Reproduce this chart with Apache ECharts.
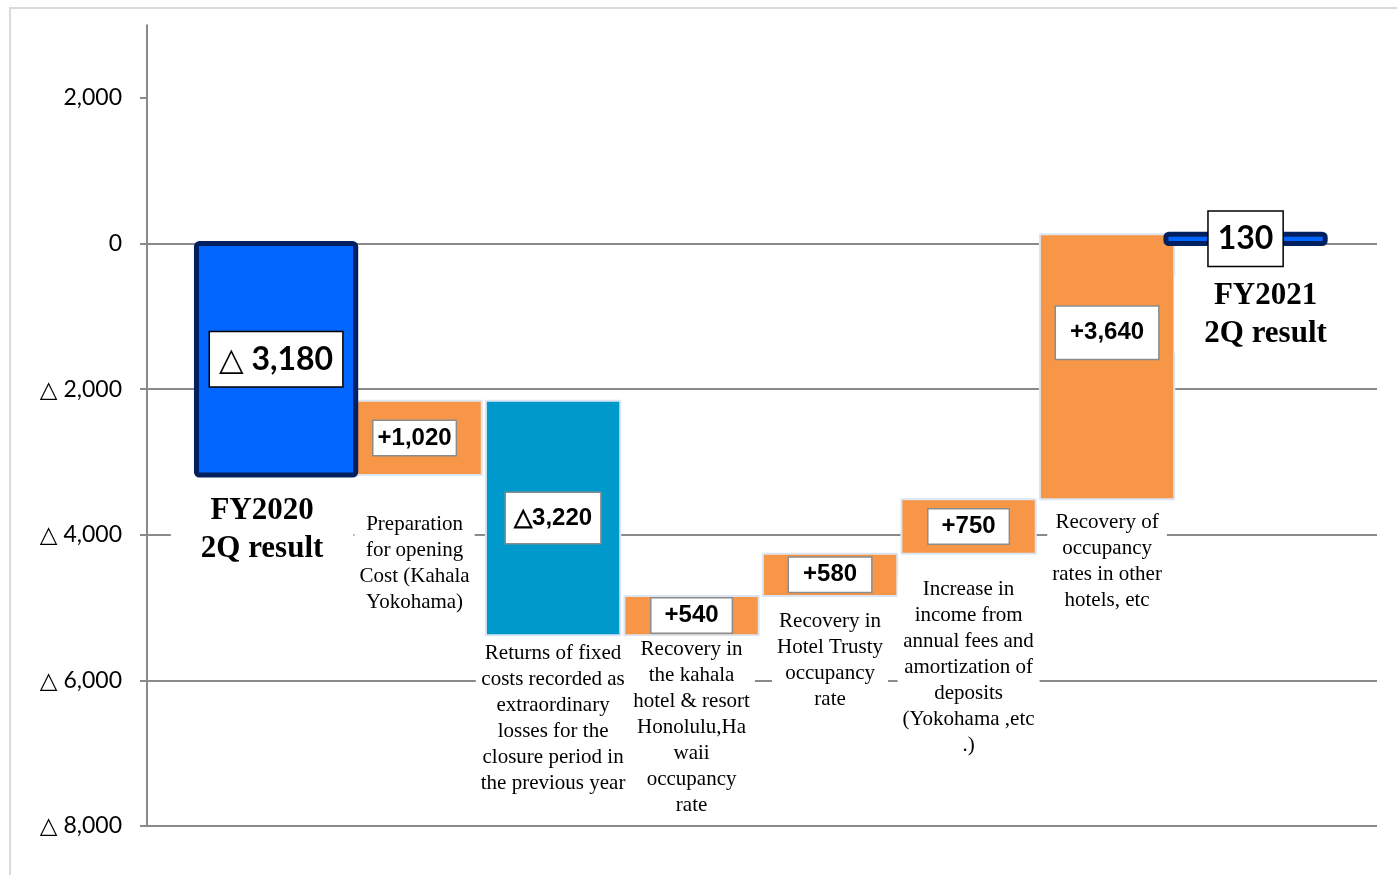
<!DOCTYPE html>
<html>
<head>
<meta charset="utf-8">
<script src="https://cdn.jsdelivr.net/npm/echarts@6/dist/echarts.min.js"></script>
<style>
  html, body { margin: 0; padding: 0; background: #fff; }
  #chart { width: 1397px; height: 875px; }
</style>
</head>
<body>
<div id="chart"></div>
<script>
// Operating profit bridge, FY2020 2Q -> FY2021 2Q (million yen)
const categories = [
  'FY2020\n2Q result',
  'Preparation\nfor opening\nCost (Kahala\nYokohama)',
  'Returns of fixed\ncosts recorded as\nextraordinary\nlosses for the\nclosure period in\nthe previous year',
  'Recovery in\nthe kahala\nhotel & resort\nHonolulu,Ha\nwaii\noccupancy\nrate',
  'Recovery in\nHotel Trusty\noccupancy\nrate',
  'Increase in\nincome from\nannual fees and\namortization of\ndeposits\n(Yokohama ,etc\n.)',
  'Recovery of\noccupancy\nrates in other\nhotels, etc',
  'FY2021\n2Q result'
];
const kinds = ['total', 'delta', 'delta', 'delta', 'delta', 'delta', 'delta', 'total'];
const values = [-3180, 1020, -3220, 540, 580, 750, 3640, 130];
const yTicks = [-8000, -6000, -4000, -2000, 0, 2000];

// waterfall ranges: totals start at zero, deltas start where the previous bar ended
let running = 0;
const ranges = values.map((v, i) => {
  if (kinds[i] === 'total') { running = v; return [i, 0, v]; }
  const start = running;
  running += v;
  return [i, start, running];
});

const fmt = n => Math.abs(n).toLocaleString('en-US');
function valueText(v, kind) {
  if (kind === 'total') return v < 0 ? '\u25B3 ' + fmt(v) : fmt(v);
  return v < 0 ? '\u25B3' + fmt(v) : '+' + fmt(v);
}
function axisText(v) {
  return v < 0 ? '\u25B3 ' + fmt(v) : fmt(v);
}

// appearance
const GRID = '#8a8a8a';
const looks = {
  total: { fill: '#0066FF', stroke: '#002060', lineWidth: 5, widthRatio: 1.15, r: 3 },
  gain:  { fill: '#F79646', stroke: '#DCE6F2', lineWidth: 2, widthRatio: 0.97, r: 0 },
  loss:  { fill: '#0099CC', stroke: '#DCE6F2', lineWidth: 2, widthRatio: 0.97, r: 0 }
};
const bigBox = { font: 'bold 32px Lato, "DejaVu Sans", sans-serif', lineHeight: 34, border: '#000', borderWidth: 1.5 };
const smallBox = { font: 'bold 24px "Liberation Sans", Arial, sans-serif', lineHeight: 24, border: '#8c8c8c', borderWidth: 1.5 };
const boxPad = [[10, 9], [5, 4], [13, 8], [5, 13], [5, 14], [5, 13], [14, 14], [10, 9]];
const boxShift = [0, 0, 0, 0, 0, 0, -34, 0];
const nameGap = [14, 35, 4, 0, 12, 22, 9, 11];
const nameShift = [-14, 0, 0, 0, 0, 0, 0, 20];
const totalName = { font: 'bold 31px "Liberation Serif", "Times New Roman", serif', lineHeight: 38, pad: [0, 30] };
const stepName = { font: '21px "Liberation Serif", "Times New Roman", serif', lineHeight: 26, pad: [0, 5] };

function renderItem(params, api) {
  const i = params.dataIndex;
  const kind = kinds[i];
  const v = values[i];
  const look = kind === 'total' ? looks.total : (v >= 0 ? looks.gain : looks.loss);
  const a = api.coord([api.value(0), api.value(1)]);
  const b = api.coord([api.value(0), api.value(2)]);
  const top = Math.min(a[1], b[1]);
  const bot = Math.max(a[1], b[1]);
  const w = api.size([1, 0])[0] * look.widthRatio;
  const cx = a[0];

  const box = kind === 'total' ? bigBox : smallBox;
  const pad = boxPad[i];
  const boxY = (top + bot) / 2 + boxShift[i];
  const boxBottom = boxY + (box.lineHeight + pad[0] * 2) / 2;

  const nm = kind === 'total' ? totalName : stepName;
  const nameTop = Math.max(bot + look.lineWidth / 2, boxBottom) + nameGap[i];

  return {
    type: 'group',
    children: [
      {
        type: 'rect',
        z2: kind === 'total' ? 5 : 1,
        shape: { x: cx - w / 2, y: top, width: w, height: bot - top, r: look.r },
        style: { fill: look.fill, stroke: look.stroke, lineWidth: look.lineWidth, lineJoin: 'round' }
      },
      {
        type: 'text',
        z2: 10,
        x: cx,
        y: boxY,
        style: {
          text: valueText(v, kind),
          align: 'center',
          verticalAlign: 'middle',
          font: box.font,
          lineHeight: box.lineHeight,
          fill: '#000',
          backgroundColor: '#fff',
          borderColor: box.border,
          borderWidth: box.borderWidth,
          padding: pad
        }
      },
      {
        type: 'text',
        z2: 8,
        x: cx + nameShift[i],
        y: nameTop,
        style: {
          text: categories[i],
          align: 'center',
          verticalAlign: 'top',
          font: nm.font,
          lineHeight: nm.lineHeight,
          fill: '#000',
          backgroundColor: '#fff',
          padding: nm.pad
        }
      }
    ]
  };
}

const chart = echarts.init(document.getElementById('chart'), null, { renderer: 'canvas' });
chart.setOption({
  backgroundColor: '#fff',
  animation: false,
  graphic: [{
    type: 'rect',
    z: -10,
    silent: true,
    shape: { x: 10, y: 8, width: 1400, height: 880 },
    style: { fill: 'none', stroke: '#dadada', lineWidth: 2 }
  }],
  grid: { left: 147, right: 20, top: 25.2, bottom: 49 },
  xAxis: { type: 'value', min: -0.932, max: 7.949, show: false },
  yAxis: {
    type: 'value',
    min: -8000,
    max: 3000,
    interval: 2000,
    axisLine: { show: true, onZero: false, lineStyle: { color: GRID, width: 2 } },
    axisTick: { show: true, customValues: yTicks, length: 7, lineStyle: { color: GRID, width: 2 } },
    axisLabel: {
      customValues: yTicks,
      formatter: axisText,
      fontFamily: 'Lato, "DejaVu Sans", sans-serif',
      fontSize: 23,
      color: '#000',
      margin: 25
    },
    splitLine: { show: true, showMaxLine: false, lineStyle: { color: GRID, width: 2 } }
  },
  series: [{
    type: 'custom',
    renderItem: renderItem,
    encode: { x: 0, y: [1, 2] },
    data: ranges
  }]
});
</script>
</body>
</html>
